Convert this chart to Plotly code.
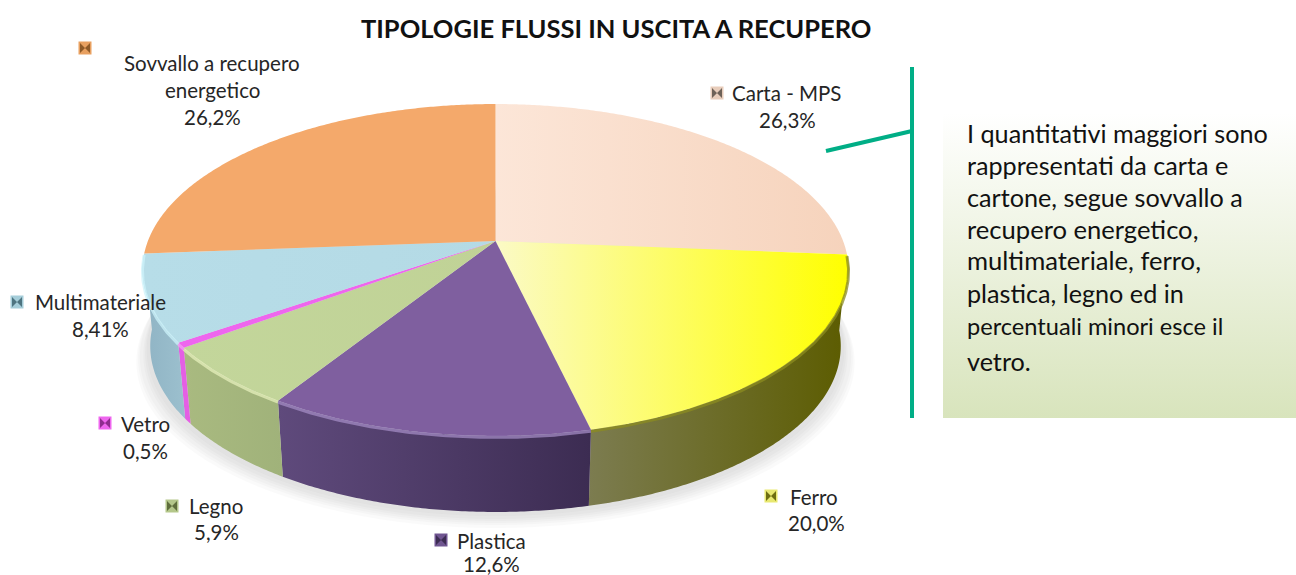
import numpy as np
import plotly.graph_objects as go

# ---- data ----
categories = ["Carta - MPS", "Ferro", "Plastica", "Legno", "Vetro", "Multimateriale", "Sovvallo a recupero energetico"]
values = [26.3, 20.0, 12.6, 5.9, 0.5, 8.41, 26.2]
value_labels = ["26,3%", "20,0%", "12,6%", "5,9%", "0,5%", "8,41%", "26,2%"]
title_text = "TIPOLOGIE FLUSSI IN USCITA A RECUPERO"
note_lines = ["I quantitativi maggiori sono", "rappresentati da carta e", "cartone, segue sovvallo a",
              "recupero energetico,", "multimateriale, ferro,", "plastica, legno ed in",
              "percentuali minori esce il", "vetro."]

# ---- style ----
top_colors = [("#FCE6D8", "#F6D3BC"), ("#FBFAC6", "#FFFF00"), ("#7F5F9F", "#7F5F9F"), ("#C3D69B", "#C0D296"),
              ("#EE66EE", "#EE66EE"), ("#B7DDE8", "#B4DAE5"), ("#F4A96B", "#F4A96B")]
wall_colors = [None, ("#7C7C50", "#5C5C00"), ("#5F4A7C", "#3C2C52"), ("#A9BA80", "#A0B27A"),
               ("#E45FE4", "#E45FE4"), ("#8FB3C4", "#9CC0CE"), None]
rim_colors = [None, "#8C8C20", "#A38BC4", "#E6F0BC", "#F7A0F7", "#CDF3FB", None]
GREEN = "#00AE86"
TEXT = "#262626"
FONT = "Lato"
CX, CY, R, K, A = 495.5, 241.0, 347.6, 0.1747, 160.9
DEPTH, SHRINK = 76.0, 0.978

def project(theta_deg, depth=0.0, scale=1.0):
    """Perspective view of the pie disc; angle runs clockwise from the top."""
    t = np.radians(theta_deg)
    u, v = np.sin(t), np.cos(t)
    w = 1 + K * v
    return CX + scale * R * u / w, CY - A * v / w + depth

def arc(a0, a1, **kw):
    n = max(int(abs(a1 - a0) * 2), 3)
    return project(np.linspace(a0, a1, n), **kw)

def grad(pair, x):
    return dict(type="horizontal", colorscale=[[0, pair[0]], [1, pair[1]]], start=float(np.min(x)), stop=float(np.max(x)))

fig = go.Figure()
fractions = np.array(values) / sum(values)
edges = np.concatenate([[0], np.cumsum(fractions) * 360])

# soft shadow below the disc
for grow, down in [(1.04, 16), (1.035, 13), (1.03, 11), (1.02, 9), (1.015, 7), (1.01, 4)]:
    sx, sy = arc(0, 360, depth=DEPTH + down, scale=SHRINK * grow)
    fig.add_trace(go.Scatter(x=sx, y=sy, mode="none", fill="toself", fillcolor="rgba(130,130,130,0.04)",
                             hoverinfo="skip", showlegend=False))

# walls
for i, name in enumerate(categories):
    if wall_colors[i] is None:
        continue
    tx, ty = arc(edges[i], edges[i + 1])
    bx, by = arc(edges[i + 1], edges[i], depth=DEPTH, scale=SHRINK)
    x, y = np.r_[tx, bx, tx[0]], np.r_[ty, by, ty[0]]
    fig.add_trace(go.Scatter(x=x, y=y, mode="none", fill="toself", fillgradient=grad(wall_colors[i], x),
                             hoverinfo="skip", showlegend=False))

# top faces
for i, name in enumerate(categories):
    ax, ay = arc(edges[i], edges[i + 1])
    x, y = np.r_[CX, ax, CX], np.r_[CY, ay, CY]
    fig.add_trace(go.Scatter(x=x, y=y, mode="none", fill="toself", fillgradient=grad(top_colors[i], x),
                             name=name, text=f"{name} {value_labels[i]}", hoverinfo="text", showlegend=False))

# bevel along the front rim
for i, name in enumerate(categories):
    if rim_colors[i] is None:
        continue
    rx, ry = arc(edges[i], edges[i + 1], depth=1.5)
    fig.add_trace(go.Scatter(x=rx, y=ry, mode="lines", line=dict(color=rim_colors[i], width=3),
                             opacity=0.75, hoverinfo="skip", showlegend=False))

# note panel
px, py = [943, 1296, 1296, 943, 943], [113, 113, 418, 418, 113]
fig.add_trace(go.Scatter(x=px, y=py, mode="none", fill="toself", hoverinfo="skip", showlegend=False,
                         fillgradient=dict(type="vertical", colorscale=[[0, "#FFFFFF"], [1, "#D8E4BC"]], start=113, stop=418)))

# label keys
key_x = [717, 771, 441, 172, 105, 17, 85]
key_y = [93, 496, 540, 506, 423, 302, 48]
key_colors = ["#E8CDBB", "#E8E870", "#6F5590", "#B4C78A", "#EE66EE", "#A5CDD9", "#E8A060"]
key_dark = ["#6E6258", "#6E6E10", "#3C2C52", "#5F6E3C", "#8E2C8E", "#4E7480", "#8E5A28"]
fig.add_trace(go.Scatter(x=key_x, y=key_y, mode="markers", hoverinfo="skip", showlegend=False,
                         marker=dict(symbol="square", size=13, color=key_colors, line=dict(width=0))))
fig.add_trace(go.Scatter(x=key_x, y=key_y, mode="markers", hoverinfo="skip", showlegend=False,
                         marker=dict(symbol="bowtie", size=10, color=key_dark, line=dict(width=0))))

annotations = [dict(x=615.5, y=28, text=f"<b>{title_text}</b>", showarrow=False, xref="x", yref="y",
                    font=dict(family=FONT, size=25.5, color="#111111"))]
def label(x, y, text, size=20.5, anchor="center", color=TEXT):
    annotations.append(dict(x=x, y=y, text=text, showarrow=False, xref="x", yref="y", xanchor=anchor,
                            yanchor="middle", font=dict(family=FONT, size=size, color=color)))

label_head = ["Carta - MPS", "Ferro", "Plastica", "Legno", "Vetro", "Multimateriale", "Sovvallo a recupero"]
head_x = [786, 814, 491, 216, 145, 100, 212]
head_y = [93, 497, 541, 506, 424, 302, 63]
pct_x = [787, 816, 491, 216, 145, 100, 212]
pct_y = [120, 523, 564, 532, 451, 329, 117]
for i in range(len(categories)):
    label(head_x[i], head_y[i], label_head[i])
    label(pct_x[i], pct_y[i], value_labels[i])
label(212, 90, "energetico")

note_y = [133, 165, 197, 229, 260, 293, 326, 361]
note_size = [25.2, 25.2, 25.2, 25.6, 25.6, 25.2, 23.6, 25.2]
for t, y, s in zip(note_lines, note_y, note_size):
    label(965, y, t, size=s, anchor="left", color="#111111")

shapes = [dict(type="line", x0=912, x1=912, y0=67, y1=418, line=dict(color=GREEN, width=4)),
          dict(type="line", x0=912, x1=826, y0=131, y1=151, line=dict(color=GREEN, width=4))]

fig.update_layout(width=1296, height=575, margin=dict(l=0, r=0, t=0, b=0), paper_bgcolor="white", plot_bgcolor="white",
                  xaxis=dict(range=[0, 1296], visible=False, fixedrange=True),
                  yaxis=dict(range=[575, 0], visible=False, fixedrange=True),
                  annotations=annotations, shapes=shapes, showlegend=False)
fig.write_html("out.html", config=dict(displayModeBar=False),
               post_script="document.body.style.margin='0';document.body.style.overflow='hidden';")
